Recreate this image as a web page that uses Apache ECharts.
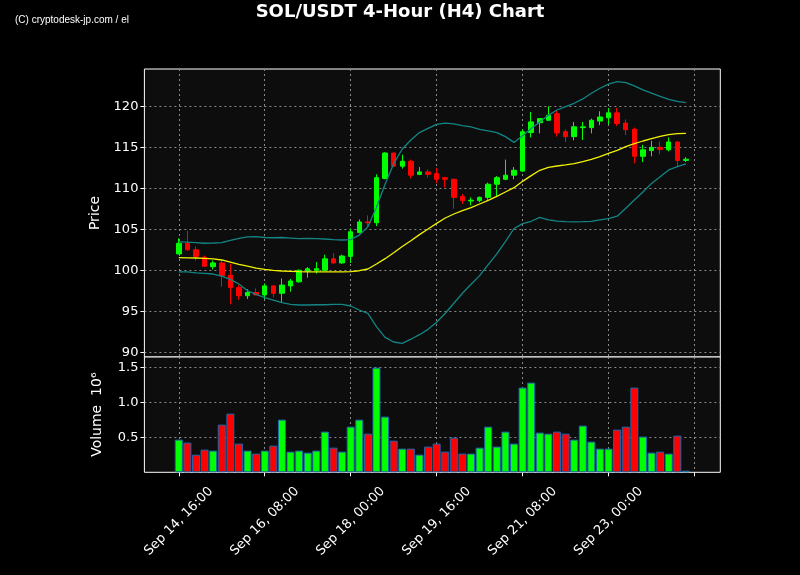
<!DOCTYPE html>
<html><head><meta charset="utf-8">
<script src="https://cdn.jsdelivr.net/npm/echarts@6/dist/echarts.min.js"></script>
<style>html,body{margin:0;padding:0;background:#000;}#c{width:800px;height:575px;}</style>
</head><body><div id="c"></div>
<script>
// ---- data (4-hour bars, first bar Sep 14 16:00) ----
const tickLabels = ['Sep 14, 16:00','Sep 16, 08:00','Sep 18, 00:00','Sep 19, 16:00','Sep 21, 08:00','Sep 23, 00:00',''];
const opens  = [102.0,103.3,102.5,101.6,100.45,100.9,99.4,97.9,96.9,97.3,97.0,98.1,97.2,98.1,98.6,99.9,100.0,100.0,101.4,100.9,
                101.7,104.6,105.9,105.8,111.2,114.3,112.7,113.3,111.7,112.0,111.8,111.3,111.1,109.0,108.45,108.5,108.9,110.5,111.1,111.6,
                112.1,116.8,118.0,118.3,119.1,116.9,116.3,117.4,117.4,118.2,118.6,119.2,117.95,117.2,113.9,114.6,115.0,114.7,115.65,113.4];
const highs  = [103.9,104.8,102.9,101.8,101.2,101.3,100.8,98.2,97.7,97.8,98.4,98.2,99.0,98.95,100.1,100.4,101.0,101.9,102.1,101.9,
                105.1,106.2,106.7,111.7,114.4,114.35,114.1,113.5,112.6,112.3,112.5,111.4,111.2,109.3,108.9,109.0,110.7,111.5,113.5,112.6,
                117.2,119.3,118.5,120.0,119.5,117.2,118.1,118.1,118.5,119.4,119.8,119.8,118.4,117.4,115.3,115.8,115.7,116.2,115.7,113.8];
const lows   = [101.95,102.4,101.2,100.4,100.1,98.0,95.85,96.4,96.5,96.95,96.5,96.7,96.1,97.4,98.5,99.1,99.6,99.9,100.8,100.8,
                100.9,104.5,105.3,105.4,111.1,112.6,112.4,111.2,111.6,111.3,110.6,110.1,107.5,108.1,107.9,108.3,108.6,109.0,111.0,111.1,
                112.0,116.2,116.7,118.25,116.3,115.65,115.85,115.9,116.7,117.7,117.8,117.6,116.5,113.05,113.2,113.9,114.15,114.5,112.7,113.2];
const closes = [103.3,102.5,101.7,100.5,100.9,99.35,97.9,96.9,97.3,97.0,98.1,97.2,98.2,98.7,100.0,100.2,100.2,101.4,100.9,101.75,
                104.7,105.9,105.8,111.3,114.3,112.7,113.3,111.6,112.0,111.7,111.1,111.1,108.9,108.5,108.55,108.9,110.5,111.3,111.6,112.2,
                116.9,118.1,118.5,118.9,116.75,116.3,117.5,117.5,118.3,118.7,119.2,117.9,117.15,113.9,114.7,115.0,114.75,115.65,113.4,113.55];
// volume in millions (10^6)
const volumes = [0.467,0.424,0.252,0.324,0.31,0.681,0.838,0.41,0.31,0.267,0.31,0.381,0.752,0.295,0.31,0.281,0.31,0.581,0.352,0.295,
                 0.652,0.752,0.552,1.495,0.795,0.452,0.338,0.338,0.252,0.367,0.41,0.295,0.495,0.267,0.267,0.352,0.652,0.367,0.581,0.41,
                 1.21,1.281,0.567,0.552,0.581,0.552,0.467,0.667,0.438,0.338,0.338,0.61,0.652,1.21,0.51,0.281,0.295,0.267,0.524,0.024];
const bbMid   = [101.54,101.52,101.5,101.45,101.4,101.26,101.0,100.73,100.5,100.28,100.12,100.0,99.92,99.88,99.84,99.82,99.8,99.8,99.8,99.8,
                 99.85,99.95,100.16,100.77,101.42,102.15,102.9,103.6,104.35,105.04,105.73,106.38,106.87,107.28,107.64,108.09,108.54,109.02,109.55,110.08,
                 110.85,111.55,112.2,112.56,112.72,112.85,113.0,113.25,113.54,113.86,114.27,114.63,115.08,115.45,115.77,116.06,116.34,116.54,116.67,116.7];
const bbUpper = [103.46,103.45,103.38,103.3,103.33,103.38,103.66,103.9,104.07,104.1,104.0,103.97,104.0,103.93,103.86,103.9,103.86,103.82,103.74,103.7,
                 103.75,104.3,105.3,107.7,110.5,113.0,114.8,115.9,116.8,117.3,117.8,117.95,117.85,117.65,117.5,117.2,117.0,116.8,116.3,115.6,
                 116.4,117.3,118.1,118.9,119.55,119.96,120.37,120.9,121.6,122.2,122.7,123.0,122.9,122.5,122.0,121.6,121.2,120.85,120.6,120.45];
const bbLower = [99.8,99.8,99.7,99.63,99.55,99.3,98.9,98.33,97.5,97.07,96.67,96.38,96.06,95.85,95.77,95.77,95.8,95.8,95.85,95.85,
                 95.65,95.16,94.76,93.13,91.83,91.26,91.1,91.6,92.15,92.8,93.66,94.76,95.98,97.2,98.3,99.35,100.7,102.0,103.5,105.1,
                 105.7,105.98,106.46,106.14,106.0,105.93,105.9,105.93,105.98,106.14,106.3,106.6,107.56,108.58,109.55,110.6,111.4,112.24,112.64,112.97];
const priceTicks = [90,95,100,105,110,115,120];
const volTicks = [0.5,1.0,1.5];

// ---- build ----
const PAD_L = 4, PAD_R = 4, N = closes.length;
const t0 = Date.UTC(2024, 8, 14, 16);
const categories = [];
for (let k = 0; k < N + PAD_L + PAD_R; k++) {
  const d = new Date(t0 + (k - PAD_L) * 4 * 3600e3);
  categories.push(d.toISOString().slice(0, 16));
}
const pad = (arr) => Array(PAD_L).fill('-').concat(arr, Array(PAD_R).fill('-'));
const candleData = pad(opens.map((o, i) => [o, closes[i], lows[i], highs[i]]));
const volData = pad(volumes.map((v, i) => ({
  value: v,
  itemStyle: { color: closes[i] >= opens[i] ? '#00ff00' : '#ff0000' }
})));
const isTick = (idx) => idx >= PAD_L && (idx - PAD_L) % 10 === 0;
const GRID_LINE = { show: true, lineStyle: { color: '#8a8a8a', type: [2, 3], width: 1 } };
const FONT = 'DejaVu Sans';

const chart = echarts.init(document.getElementById('c'), null, { renderer: 'canvas' });
chart.setOption({
  backgroundColor: '#000',
  animation: false,
  title: {
    text: 'SOL/USDT 4-Hour (H4) Chart', left: 'center', top: -2,
    textStyle: { color: '#fff', fontSize: 18, fontWeight: 'bold', fontFamily: FONT }
  },
  graphic: [{
    type: 'text', left: 15, top: 15,
    style: { text: '(C) cryptodesk-jp.com / el', fill: '#fff', font: '10px "Liberation Sans"' }
  }],
  grid: [
    { left: 144.4, top: 69, width: 575.9, height: 288, show: true, borderColor: '#fff', borderWidth: 1, backgroundColor: '#0d0d0d' },
    { left: 144.4, top: 357, width: 575.9, height: 115.3, show: true, borderColor: '#fff', borderWidth: 1, backgroundColor: '#0d0d0d' }
  ],
  xAxis: [
    { type: 'category', gridIndex: 0, data: categories, boundaryGap: false,
      axisLine: { show: false }, axisTick: { show: false }, axisLabel: { show: false },
      splitLine: Object.assign({ interval: isTick }, GRID_LINE) },
    { type: 'category', gridIndex: 1, data: categories, boundaryGap: false,
      axisLine: { show: false },
      axisTick: { show: true, interval: isTick, length: 4, lineStyle: { color: '#fff' } },
      axisLabel: { interval: isTick, rotate: 45, align: 'center', verticalAlign: 'middle', margin: 49,
        color: '#fff', fontSize: 13, fontFamily: FONT,
        formatter: (v, idx) => isTick(idx) ? (tickLabels[(idx - PAD_L) / 10] || '') : '' },
      splitLine: Object.assign({ interval: isTick }, GRID_LINE) }
  ],
  yAxis: [
    { type: 'value', gridIndex: 0, min: 89.43, max: 124.55, scale: true,
      name: 'Price', nameLocation: 'middle', nameGap: 40,
      nameTextStyle: { color: '#fff', fontSize: 14, fontFamily: FONT },
      axisLine: { show: false },
      axisTick: { show: true, length: 4, lineStyle: { color: '#fff' }, customValues: priceTicks },
      axisLabel: { color: '#fff', fontSize: 13, fontFamily: FONT, margin: 6, customValues: priceTicks },
      splitLine: GRID_LINE },
    { type: 'value', gridIndex: 1, min: 0, max: 1.647,
      name: 'Volume  10\u2076', nameLocation: 'middle', nameGap: 40,
      nameTextStyle: { color: '#fff', fontSize: 14, fontFamily: FONT },
      axisLine: { show: false },
      axisTick: { show: true, length: 4, lineStyle: { color: '#fff' }, customValues: volTicks },
      axisLabel: { color: '#fff', fontSize: 13, fontFamily: FONT, margin: 6, customValues: volTicks,
        formatter: (v) => v.toFixed(1) },
      splitLine: GRID_LINE }
  ],
  series: [
    { type: 'candlestick', xAxisIndex: 0, yAxisIndex: 0, data: candleData, barWidth: 5, z: 2,
      itemStyle: { color: '#00ff00', color0: '#ff0000', borderColor: '#00ff00', borderColor0: '#ff0000', borderWidth: 1 } },
    { type: 'line', xAxisIndex: 0, yAxisIndex: 0, data: pad(bbUpper), showSymbol: false, z: 3,
      lineStyle: { color: '#138585', width: 1.3 } },
    { type: 'line', xAxisIndex: 0, yAxisIndex: 0, data: pad(bbLower), showSymbol: false, z: 3,
      lineStyle: { color: '#138585', width: 1.3 } },
    { type: 'line', xAxisIndex: 0, yAxisIndex: 0, data: pad(bbMid), showSymbol: false, z: 3,
      lineStyle: { color: '#f2f200', width: 1.3 } },
    { type: 'bar', xAxisIndex: 1, yAxisIndex: 1, data: volData, barWidth: 8, barMinHeight: 1,
      itemStyle: { borderColor: '#1f67ad', borderWidth: 1 } }
  ]
});
</script></body></html>
